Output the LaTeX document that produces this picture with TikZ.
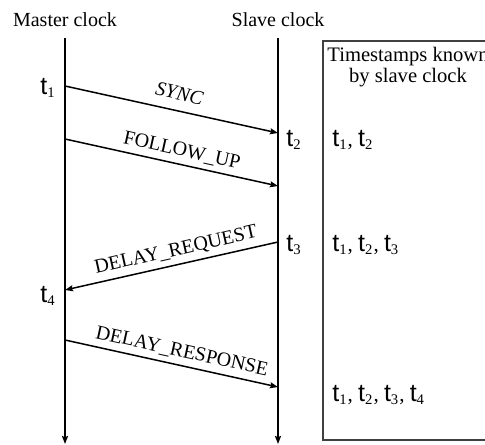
\documentclass[tikz,border=0pt]{standalone}
\usepackage{fontspec}
\setmainfont{Liberation Serif}
\newfontfamily\tsfont{Liberation Sans}
\usetikzlibrary{arrows.meta,positioning}
\newcommand{\tstamp}[1]{{\tsfont\fontsize{12.5}{12}\selectfont t}\textsubscript{#1}}

\begin{document}
\begin{tikzpicture}[x=0.5pt, y=0.5pt,
        clockline/.style={line width=1pt, -{Stealth[length=4pt, width=3pt, inset=0.6pt]}},
        msg/.style={line width=0.75pt, -{Stealth[length=4pt, width=3pt, inset=0.6pt]}},
        msglabel/.style={sloped, above, inner sep=2.5pt},
        tlabel/.style={inner sep=1pt, font=\fontsize{10.5}{12}\selectfont}]
        \useasboundingbox (0,0) rectangle (485,444);
        \clip (0,0) rectangle (485,444);

        % Clock titles
        \node at (65, 424) (master) {Master clock};
        \node at (278, 424) (slave) {Slave clock};

        % Time lines
        \coordinate (master-top) at (65, 406);
        \coordinate (master-end) at (65, 0);
        \coordinate (slave-top) at (278, 406);
        \coordinate (slave-end) at (278, 0);
        \draw [clockline] (master-top) -- (master-end);
        \draw [clockline] (slave-top) -- (slave-end);

        % Message end points
        \coordinate (m1) at (65, 358);
        \coordinate (s1) at (278, 311);
        \coordinate (m2) at (65, 305);
        \coordinate (s2) at (278, 258);
        \coordinate (s3) at (278, 202);
        \coordinate (m3) at (65, 154);
        \coordinate (m4) at (65, 104);
        \coordinate (s4) at (278, 57);

        % Messages
        \draw [msg] (m1) -- node[msglabel, pos=0.52, inner sep=5pt] {\textit{SYNC}} (s1);
        \draw [msg] (m2) -- node[msglabel, pos=0.535] {FOLLOW\_UP} (s2);
        \draw [msg] (s3) -- node[msglabel, pos=0.465] {DELAY\_REQUEST} (m3);
        \draw [msg] (m4) -- node[msglabel, pos=0.535] {DELAY\_RESPONSE} (s4);

        % Timestamps on the lines
        \node[tlabel, anchor=east] at (58, 356) (t1) {\tstamp{1}};
        \node[tlabel, anchor=west] at (284, 304) (t2) {\tstamp{2}};
        \node[tlabel, anchor=west] at (284, 199) (t3) {\tstamp{3}};
        \node[tlabel, anchor=east] at (58, 148) (t4) {\tstamp{4}};

        % Known timestamps
        \draw[black!75, line width=0.6pt] (323, 4) rectangle (500, 403);
        \node[align=center, font=\fontsize{10.3}{10.8}\selectfont] at (408, 377) (known) {Timestamps known\\by slave clock};
        \node[tlabel, anchor=west] at (330, 304) (k2) {\tstamp{1}, \tstamp{2}};
        \node[tlabel, anchor=west] at (330, 199) (k3) {\tstamp{1}, \tstamp{2}, \tstamp{3}};
        \node[tlabel, anchor=west] at (330, 49) (k4) {\tstamp{1}, \tstamp{2}, \tstamp{3}, \tstamp{4}};
\end{tikzpicture}
\end{document}
